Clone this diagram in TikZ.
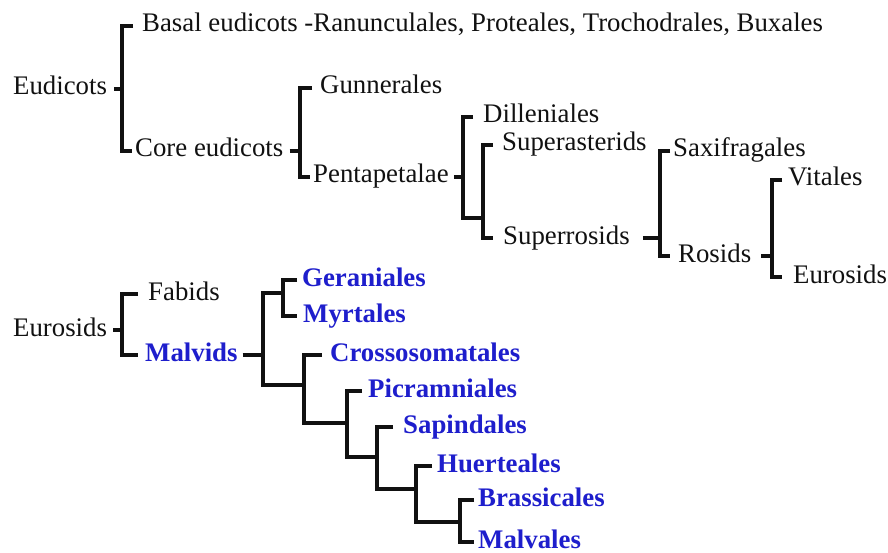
\documentclass[tikz,border=0pt]{standalone}
\usepackage{fontspec}
\setmainfont{Liberation Serif}
\usepackage{xcolor}
\definecolor{cladeblue}{HTML}{1E1ECC}
\definecolor{inkblack}{HTML}{111111}

\begin{document}
\begin{tikzpicture}[x=1pt,y=-1pt,
	taxon/.style={anchor=west, inner sep=0pt, text height=12pt, text depth=0pt,
		font=\fontsize{26.8}{30}\selectfont, text=inkblack},
	malvid/.style={taxon, font=\fontsize{26.8}{30}\selectfont\bfseries, text=cladeblue},
	branch/.style={draw=inkblack, line width=3.3pt}]
	% Fixed white canvas, same proportions as the source figure.
	\path[use as bounding box] (0,0) rectangle (888,553);
	\fill[white] (0,0) rectangle (888,553);

	% Upper tree: eudicots down to eurosids.
	\node[taxon] (eud) at (13,89) {Eudicots};
	\node[taxon] (basal) at (142,26) {Basal eudicots -Ranunculales, Proteales, Trochodrales, Buxales};
	\node[taxon] (core) at (135,151) {Core eudicots};
	\node[taxon] (gunn) at (320,88) {Gunnerales};
	\node[taxon] (pent) at (313,177) {Pentapetalae};
	\node[taxon] (dill) at (483,117) {Dilleniales};
	\node[taxon] (supa) at (502,145) {Superasterids};
	\node[taxon] (supr) at (503,238) {Superrosids};
	\node[taxon] (saxi) at (673,151) {Saxifragales};
	\node[taxon] (ros) at (678,256) {Rosids};
	\node[taxon] (vit) at (788,180) {Vitales};
	\node[taxon] (eur) at (793,277) {Eurosids};

	% Lower tree: eurosids with the malvid orders in blue.
	\node[taxon] (eurB) at (13,330) {Eurosids};
	\node[taxon] (fab) at (148,294) {Fabids};
	\node[malvid] (mal) at (145,355) {Malvids};
	\node[malvid] (ger) at (302,280) {Geraniales};
	\node[malvid] (myr) at (303,316) {Myrtales};
	\node[malvid] (cross) at (330,355) {Crossosomatales};
	\node[malvid] (picr) at (368,391) {Picramniales};
	\node[malvid] (sap) at (403,427) {Sapindales};
	\node[malvid] (huer) at (437,466) {Huerteales};
	\node[malvid] (bras) at (478,500) {Brassicales};
	\node[malvid] (malv) at (478,542) {Malvales};

	% Bracket joints (vertical bar meets the parent tick) and inner clade points.
	\coordinate (kEud) at (122,89);
	\coordinate (kCore) at (300,151);
	\coordinate (kPent) at (463,177);
	\coordinate (nSup) at (483,218);
	\coordinate (kSupr) at (660,238);
	\coordinate (kRos) at (772,256);
	\coordinate (kEurB) at (122,330);
	\coordinate (kMal) at (263,355);
	\coordinate (nGM) at (283,293);
	\coordinate (nR1) at (304,385);
	\coordinate (nR2) at (347,423);
	\coordinate (nR3) at (377,457);
	\coordinate (nR4) at (416,489);
	\coordinate (nR5) at (460,522);

	% Parent ticks.
	\foreach \p/\k/\g in {eud/kEud/7, core/kCore/6, pent/kPent/5, supr/kSupr/13,
		ros/kRos/10, eurB/kEurB/6, mal/kMal/5} {
		\draw[branch] ([xshift=\g]\p.east) -- (\k);
	}

	% Upper brackets.
	\draw[branch] ([xshift=-9]basal.west) -| (kEud) |- ([xshift=-3]core.west);
	\draw[branch] ([xshift=-8]gunn.west) -| (kCore) |- ([xshift=-3]pent.west);
	\draw[branch] ([xshift=-10]dill.west) -| (kPent) |- (nSup);
	\draw[branch] ([xshift=-9]supa.west) -| (nSup) |- ([xshift=-10]supr.west);
	\draw[branch] ([xshift=-3]saxi.west) -| (kSupr) |- ([xshift=-8]ros.west);
	\draw[branch] ([xshift=-6]vit.west) -| (kRos) |- ([xshift=-11]eur.west);

	% Lower brackets: the malvid ladder.
	\draw[branch] ([xshift=-10]fab.west) -| (kEurB) |- ([xshift=-7]mal.west);
	\draw[branch] (nGM) -| (kMal) |- (nR1);
	\draw[branch] ([xshift=-5]ger.west) -| (nGM) |- ([xshift=-6]myr.west);
	\draw[branch] ([xshift=-8]cross.west) -| (nR1) |- (nR2);
	\draw[branch] ([xshift=-6]picr.west) -| (nR2) |- (nR3);
	\draw[branch] ([xshift=-10]sap.west) -| (nR3) |- (nR4);
	\draw[branch] ([xshift=-5]huer.west) -| (nR4) |- (nR5);
	\draw[branch] ([xshift=-4]bras.west) -| (nR5) |- ([xshift=-4]malv.west);
\end{tikzpicture}
\end{document}
